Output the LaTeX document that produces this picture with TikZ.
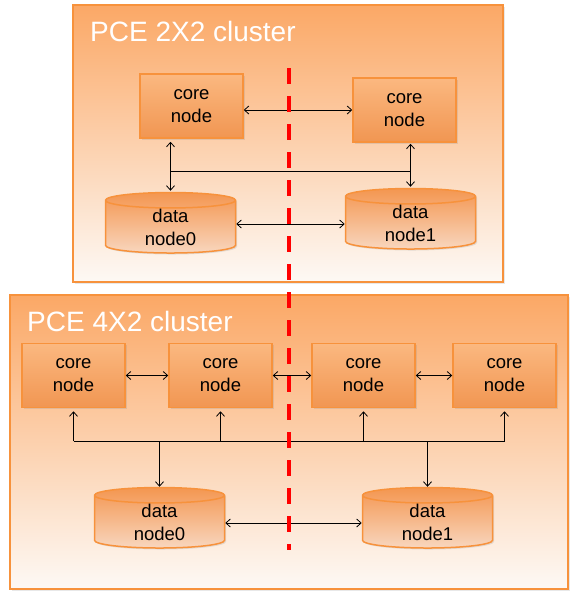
\documentclass[tikz,border=0pt]{standalone}
\usepackage{fontspec}
\setmainfont{Liberation Sans}
\usetikzlibrary{shapes.geometric,arrows.meta,shadows}
\definecolor{pceline}{RGB}{247,146,60}
\definecolor{pcetop}{RGB}{251,168,102}
\definecolor{pcebot}{RGB}{253,249,245}
\definecolor{coretop}{RGB}{251,184,128}
\definecolor{corebot}{RGB}{241,150,82}
\definecolor{datatop}{RGB}{244,150,80}
\definecolor{databot}{RGB}{248,214,190}
\tikzset{
  cluster/.style={draw=pceline,line width=1.5pt,top color=pcetop,bottom color=pcebot,inner sep=0pt,
    drop shadow={opacity=.18,shadow xshift=2pt,shadow yshift=-2pt}},
  title/.style={anchor=base west,inner sep=0pt,text=white,font=\fontsize{28}{33}\selectfont},
  corebox/.style={draw=pceline,line width=1.5pt,top color=coretop,bottom color=corebot,inner sep=0pt,
    minimum width=103pt,minimum height=64pt,align=center,font=\fontsize{18.5}{23}\selectfont,
    drop shadow={opacity=.2,shadow xshift=1.5pt,shadow yshift=-1.5pt}},
  datacyl/.style={cylinder,shape border rotate=90,aspect=.3,draw=pceline,line width=1.5pt,
    top color=datatop,bottom color=databot,inner sep=0pt,minimum width=130pt,minimum height=60pt,
    align=center,font=\fontsize{18.5}{23}\selectfont,
    drop shadow={opacity=.2,shadow xshift=1.5pt,shadow yshift=-1.5pt}},
  link/.style={line width=.8pt,>={Straight Barb[length=4.5pt,width=8pt]}},
  splitline/.style={draw=red,line width=4pt,dash pattern=on 16pt off 12pt}
}
\begin{document}
\begin{tikzpicture}[x=1pt,y=-1pt]
  \useasboundingbox (0,0) rectangle (576,598);
  \node[cluster,minimum width=430pt,minimum height=277pt] (pceA) at (288,143.5) {};
  \node[title] (titleA) at (90,41) {PCE 2X2 cluster};
  \node[corebox] (coreA1) at (191.5,106) {core\\node};
  \node[corebox] (coreA2) at (404.5,110) {core\\node};
  \node[datacyl] (dataA0) at (170.5,227) {data\\node0};
  \node[datacyl] (dataA1) at (410.5,223) {data\\node1};
  \coordinate (busA) at (0,171);
  \draw[link,<->] (coreA1.east |- coreA2.west) -- (coreA2.west);
  \draw[link,<->,shorten <=3pt,shorten >=1pt] (dataA0.north |- coreA1.south) -- (dataA0.north);
  \draw[link,<->,shorten <=1pt,shorten >=1pt] (dataA1.north |- coreA2.south) -- (dataA1.north);
  \draw[link] (dataA0.north |- busA) -- (dataA1.north |- busA);
  \draw[link,<->] (dataA0.east |- 0,224) -- (dataA1.west |- 0,224);

  \node[cluster,minimum width=558pt,minimum height=294pt] (pceB) at (289,442) {};
  \node[title] (titleB) at (27,331) {PCE 4X2 cluster};
  \node[corebox] (coreB1) at (73.5,375.5) {core\\node};
  \node[corebox] (coreB2) at (220.5,375.5) {core\\node};
  \node[corebox] (coreB3) at (363.5,375.5) {core\\node};
  \node[corebox] (coreB4) at (504.5,375.5) {core\\node};
  \node[datacyl] (dataB0) at (159.5,522) {data\\node0};
  \node[datacyl] (dataB1) at (427.5,522) {data\\node1};
  \coordinate (busB) at (0,441);
  \draw[link,<->] (coreB1.east) -- (coreB2.west);
  \draw[link,<->] (coreB2.east) -- (coreB3.west);
  \draw[link,<->] (coreB3.east) -- (coreB4.west);
  \draw[link] (coreB1.south |- busB) -- (coreB4.south |- busB);
  \foreach \k in {1,2,3,4}
    \draw[link,->,shorten >=3pt] (coreB\k.south |- busB) -- (coreB\k.south);
  \draw[link,->] (dataB0.north |- busB) -- (dataB0.north);
  \draw[link,->] (dataB1.north |- busB) -- (dataB1.north);
  \draw[link,<->] (dataB0.east |- 0,523) -- (dataB1.west |- 0,523);

  \coordinate (splitT) at (289,68);
  \coordinate (splitB) at (289,550);
  \draw[splitline] (splitT) -- (splitB);
\end{tikzpicture}
\end{document}
